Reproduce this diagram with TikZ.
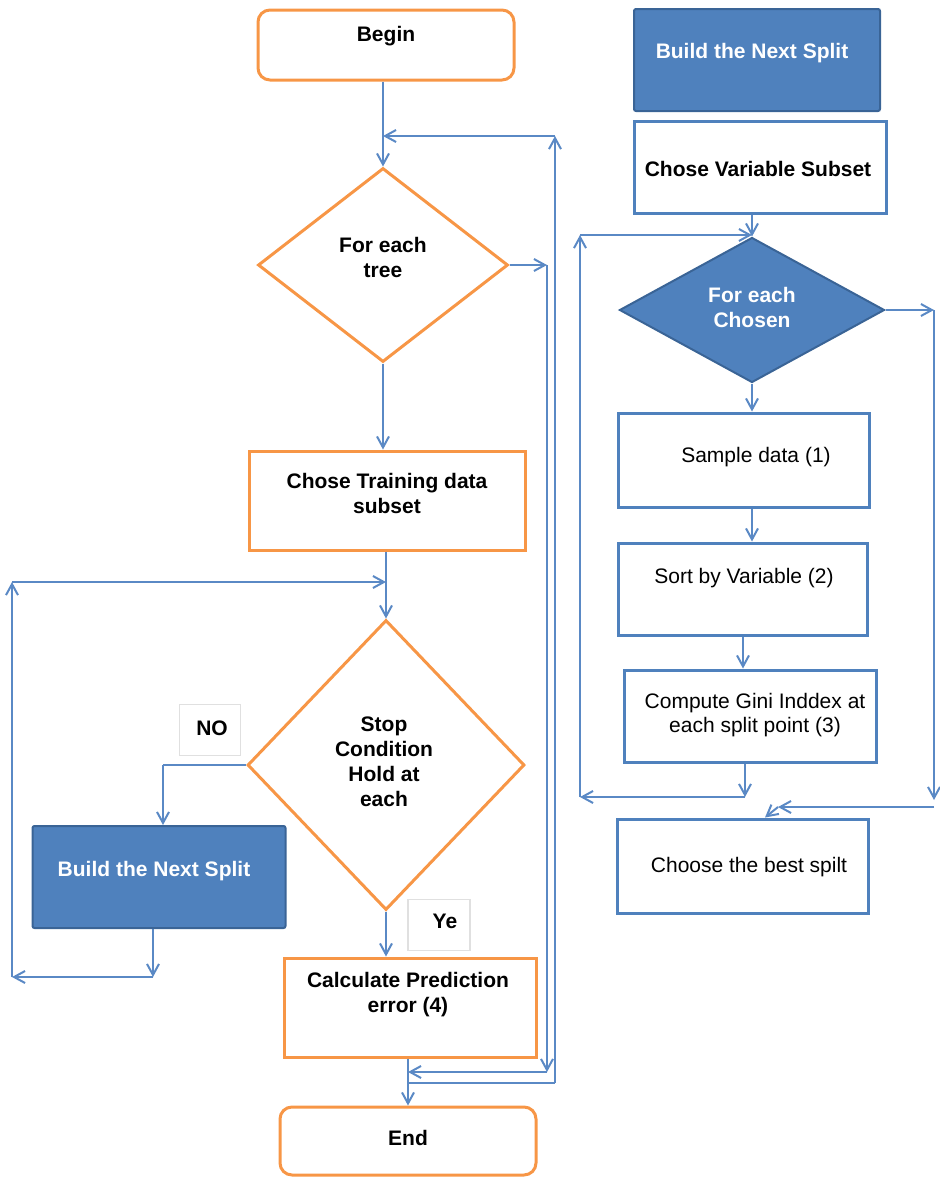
\documentclass[tikz,border=0pt]{standalone}
\usepackage{fontspec}
\setmainfont{Liberation Sans}
\usetikzlibrary{shapes.geometric,arrows.meta}

\definecolor{flowOrange}{HTML}{F79646}
\definecolor{flowBlue}{HTML}{4F81BD}
\definecolor{flowDark}{HTML}{3A6496}
\definecolor{flowLink}{HTML}{5A89C5}

\tikzset{
  term/.style   = {draw=flowOrange, line width=1.5pt, rounded corners=6pt, inner sep=0pt},
  obox/.style   = {draw=flowOrange, line width=1.5pt, inner sep=0pt},
  odiam/.style  = {diamond, draw=flowOrange, line width=1.5pt, inner sep=0pt},
  fbox/.style   = {draw=flowDark, fill=flowBlue, line width=1pt, rounded corners=1pt, inner sep=0pt},
  fdiam/.style  = {diamond, draw=flowDark, fill=flowBlue, line width=1pt, inner sep=0pt},
  bbox/.style   = {draw=flowBlue, line width=1.5pt, inner sep=0pt},
  tag/.style    = {draw=black!12, line width=0.6pt, inner sep=0pt},
  btxt/.style   = {font=\fontsize{10.5}{12.5}\selectfont\bfseries, align=center, inner sep=0pt},
  wtxt/.style   = {btxt, text=white},
  rtxt/.style   = {font=\fontsize{10.5}{12}\selectfont, align=center, inner sep=0pt},
  link/.style   = {draw=flowLink, line width=1pt}
}

\begin{document}
\begin{tikzpicture}[x=0.5pt, y=-0.5pt, >={Straight Barb[length=5.5pt, width=6pt]}]

\useasboundingbox (0,0) rectangle (939,1179);

% left column: loop over the trees
\node[term,  minimum width=128pt,   minimum height=35pt]   (begin)   at (386,45)    {};
\node[btxt] (begintxt) at (386,36) {Begin};

\node[odiam, minimum width=125pt,   minimum height=97pt]   (tree)    at (383,265)   {};
\node[btxt] (treetxt) at (383,257) {For each\\tree};

\node[obox,  minimum width=138pt,   minimum height=49.5pt] (train)   at (387,500.5) {};
\node[btxt] (traintxt) at (387,493) {Chose Training data\\subset};

\node[odiam, minimum width=138.5pt, minimum height=145pt]  (stop)    at (386,765)   {};
\node[btxt] (stoptxt) at (384,762) {Stop\\Condition\\Hold at\\each};

\node[fbox,  minimum width=126.5pt, minimum height=51pt]   (nosplit) at (159,877)   {};
\node[wtxt] (nosplittxt) at (154,871) {Build the Next Split};

\node[obox,  minimum width=126pt,   minimum height=49.5pt] (calc)    at (410,1007.5) {};
\node[btxt] (calctxt) at (408,995) {Calculate Prediction\\error (4)};

\node[term,  minimum width=128pt,   minimum height=34pt]   (endn)    at (408,1141)  {};
\node[btxt] (endtxt) at (408,1138) {End};

% answer tags
\node[tag, minimum width=30.5pt, minimum height=25.5pt] (notag) at (210,730) {};
\node[btxt] (notxt) at (212,728) {NO};
\node[tag, minimum width=31pt,   minimum height=25.5pt] (yetag) at (439,925) {};
\node[btxt] (yetxt) at (445,921) {Ye};

% right column: building one split
\node[fbox,  minimum width=123pt,   minimum height=51pt]   (split)   at (757,60)    {};
\node[wtxt] (splittxt) at (752,53) {Build the Next Split};

\node[bbox,  minimum width=126pt,   minimum height=46pt]   (varsub)  at (760,167)   {};
\node[btxt] (varsubtxt) at (758,169) {Chose Variable Subset};

\node[fdiam, minimum width=132.5pt, minimum height=72.5pt] (chosen)  at (752,310)   {};
\node[wtxt] (chosentxt) at (752,307) {For each\\Chosen};

\node[bbox,  minimum width=125.5pt, minimum height=47pt]   (sample)  at (744,460)   {};
\node[rtxt] (sampletxt) at (756,457) {Sample data (1)};

\node[bbox,  minimum width=124.5pt, minimum height=46pt]   (sortv)   at (743,589)   {};
\node[rtxt] (sortvtxt) at (744,578) {Sort by Variable (2)};

\node[bbox,  minimum width=126pt,   minimum height=46pt]   (gini)    at (750,716)   {};
\node[rtxt] (ginitxt) at (755,715) {Compute Gini Inddex at\\each split point (3)};

\node[bbox,  minimum width=125.5pt, minimum height=47pt]   (best)    at (743,866)   {};
\node[rtxt] (besttxt) at (749,867) {Choose the best spilt};

% corner points of the loops
\coordinate (treeloop) at (555,136);
\coordinate (nexttree) at (555,1083);
\coordinate (doneA)    at (547,265);
\coordinate (doneB)    at (547,1072);
\coordinate (backA)    at (153,977);
\coordinate (backB)    at (12,977);
\coordinate (backC)    at (12,582);
\coordinate (nobend)   at (163,765);
\coordinate (innerA)   at (745,797);
\coordinate (innerB)   at (580,797);
\coordinate (innerC)   at (580,235);
\coordinate (outA)     at (934,310);
\coordinate (outB)     at (934,800);
\coordinate (outC)     at (778,807);

% left connectors
\draw[link, ->] (begin.south -| tree.north) -- (tree.north);
\draw[link, ->] (tree.south) -- (tree.south |- train.north);
\draw[link, ->] (train.south -| stop.north) -- (stop.north);
\draw[link, ->] (stop.south) -- (stop.south |- calc.north);
\draw[link, ->] (calc.south -| endn.north) -- (endn.north);

% next tree
\draw[link] (endn.north |- nexttree) -- (nexttree);
\draw[link, ->] (nexttree) -- (treeloop);
\draw[link, ->] (treeloop) -- (treeloop -| tree.north);

% all trees done
\draw[link, ->] (tree.east) -- (doneA);
\draw[link, ->] (doneA) -- (doneB);
\draw[link, ->] (doneB) -- (doneB -| endn.north);

% NO branch and back to the test
\draw[link] (stop.west) -- (nobend);
\draw[link, ->] (nobend) -- (nobend |- nosplit.north);
\draw[link, ->] (backA |- nosplit.south) -- (backA);
\draw[link, ->] (backA) -- (backB);
\draw[link, ->] (backB) -- (backC);
\draw[link, ->] (backC) -- (backC -| stop.north);

% right connectors
\draw[link, ->] (varsub.south -| chosen.north) -- (chosen.north);
\draw[link, ->] (chosen.south) -- (chosen.south |- sample.north);
\draw[link, ->] (chosen.south |- sample.south) -- (chosen.south |- sortv.north);
\draw[link, ->] (sortv.south) -- (sortv.south |- gini.north);
\draw[link, ->] (innerA |- gini.south) -- (innerA);
\draw[link, ->] (innerA) -- (innerB);
\draw[link, ->] (innerB) -- (innerC);
\draw[link, ->] (innerC) -- (innerC -| chosen.north);

\draw[link, ->] (chosen.east) -- (outA);
\draw[link, ->] (outA) -- (outB);
\draw[link, ->] (outB |- outC) -- (outC);
\draw[link, ->] (outC) -- ([xshift=11pt]best.north);

\end{tikzpicture}
\end{document}
